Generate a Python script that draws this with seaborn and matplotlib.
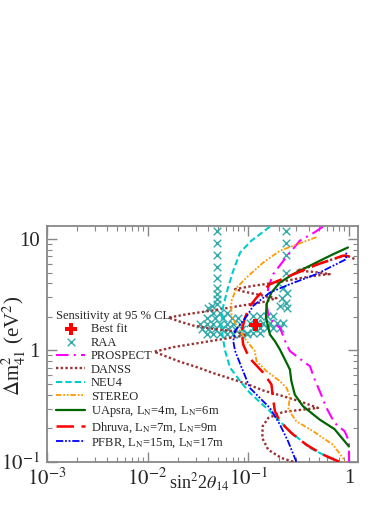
import numpy as np
import pandas as pd
import matplotlib
matplotlib.use("Agg")
import matplotlib.pyplot as plt
import seaborn as sns

# ---------------- data (sin^2 2theta14, dm41^2 [eV^2]) ----------------
prospect_s = [0.55, 0.457, 0.325, 0.23, 0.177, 0.158, 0.152, 0.158, 0.177, 0.206, 0.24, 0.259, 0.35, 0.41, 0.457, 0.53, 0.597, 0.72, 0.905, 1.0, 1.0]
prospect_dm = [12.9, 11.5, 9.66, 6.6, 4.84, 3.67, 2.6, 2.11, 1.77, 1.6, 1.13, 0.986, 0.80, 0.72, 0.548, 0.40, 0.305, 0.223, 0.188, 0.153, 0.1]

danss_s = [0.279, 0.214, 0.158, 0.138, 0.139, 0.158, 0.222, 0.351, 0.493, 0.337, 0.222, 0.141, 0.0962, 0.0658, 0.045, 0.0308, 0.0211, 0.0150, 0.0116, 0.0181, 0.0332, 0.061, 0.0962, 0.071, 0.045, 0.0285, 0.0211, 0.0161, 0.0245, 0.045, 0.0827, 0.141, 0.191, 0.130, 0.0892, 0.0738, 0.112, 0.191, 0.325, 0.512, 0.644, 0.44, 0.301, 0.44, 0.695, 0.94, 1.14]
danss_dm = [0.1, 0.108, 0.128, 0.163, 0.208, 0.247, 0.28, 0.294, 0.304, 0.345, 0.388, 0.436, 0.501, 0.56, 0.625, 0.708, 0.79, 0.889, 0.973, 1.07, 1.17, 1.28, 1.37, 1.49, 1.56, 1.67, 1.81, 1.97, 2.11, 2.29, 2.51, 2.72, 2.94, 3.15, 3.38, 3.55, 3.80, 4.07, 4.45, 4.74, 4.84, 5.08, 5.19, 5.75, 6.6, 7.17, 6.6]

neu4_s = [0.164, 0.108, 0.083, 0.071, 0.063, 0.056, 0.054, 0.056, 0.059, 0.066, 0.083, 0.104, 0.164, 0.259, 0.41, 0.644, 0.81]
neu4_dm = [12.9, 9.7, 7.57, 5.19, 3.67, 2.42, 1.71, 1.30, 0.986, 0.70, 0.53, 0.415, 0.284, 0.188, 0.133, 0.108, 0.1]

stereo_s = [0.475, 0.206, 0.141, 0.096, 0.077, 0.068, 0.068, 0.074, 0.083, 0.097, 0.116, 0.121, 0.152, 0.206, 0.24, 0.259, 0.25, 0.30, 0.44, 0.695, 0.87, 0.9]
stereo_dm = [10.4, 7.85, 6.16, 4.51, 3.67, 2.78, 2.11, 1.77, 1.49, 1.21, 0.986, 0.80, 0.65, 0.53, 0.46, 0.39, 0.294, 0.231, 0.188, 0.142, 0.108, 0.1]

uapsra_s = [1.0, 0.72, 0.512, 0.35, 0.29, 0.268, 0.259, 0.231, 0.206, 0.184, 0.164, 0.15, 0.152, 0.17, 0.206, 0.279, 0.475, 0.695, 0.977]
uapsra_dm = [0.137, 0.196, 0.239, 0.315, 0.40, 0.53, 0.674, 0.83, 1.02, 1.21, 1.39, 1.97, 2.6, 3.31, 4.07, 4.84, 6.16, 7.3, 8.4]

dhruva_s = [0.8, 0.55, 0.378, 0.268, 0.206, 0.184, 0.177, 0.17, 0.141, 0.102, 0.089, 0.086, 0.093, 0.104, 0.121, 0.164, 0.259, 0.475, 0.87, 1.0]
dhruva_dm = [0.1, 0.116, 0.142, 0.181, 0.231, 0.284, 0.362, 0.494, 0.63, 0.86, 1.13, 1.49, 1.97, 2.5, 2.98, 3.93, 4.67, 5.87, 7.08, 7.0]

pfbr_s = [0.30, 0.249, 0.206, 0.164, 0.13, 0.104, 0.086, 0.074, 0.071, 0.074, 0.083, 0.097, 0.112, 0.164, 0.259, 0.475, 0.94, 0.94]
pfbr_dm = [0.1, 0.152, 0.216, 0.304, 0.375, 0.46, 0.70, 0.99, 1.21, 1.49, 1.71, 2.04, 2.51, 3.31, 3.93, 4.84, 6.6, 7.85]

raa_s = [0.0486, 0.0486, 0.0486, 0.0486, 0.0486, 0.0486, 0.0486, 0.0486, 0.0486, 0.0434, 0.040,
         0.236, 0.236, 0.236, 0.236, 0.222, 0.24, 0.214, 0.236, 0.206, 0.24,
         0.045, 0.0527, 0.061,
         0.0387, 0.0468, 0.0565, 0.0684, 0.0796,
         0.0332, 0.0387, 0.045, 0.0527, 0.061, 0.071, 0.0827,
         0.0345, 0.0402, 0.0468, 0.0544, 0.0634, 0.0738, 0.0859,
         0.0387, 0.045, 0.0527, 0.061, 0.071, 0.0827, 0.0962,
         0.112, 0.130, 0.152, 0.177,
         0.104, 0.121, 0.141, 0.164, 0.191, 0.222,
         0.112, 0.130, 0.152, 0.177, 0.206,
         0.0962, 0.112, 0.130]
raa_dm = [11.9, 9.3, 7.2, 5.63, 4.45, 3.67, 3.2, 2.88, 2.63, 2.51, 2.39,
          11.9, 9.3, 7.2, 5.0, 3.67, 3.31, 2.94, 2.69, 2.51, 2.42,
          2.18, 2.18, 2.18,
          1.97, 1.97, 1.97, 1.97, 1.97,
          1.71, 1.71, 1.71, 1.71, 1.71, 1.71, 1.71,
          1.55, 1.55, 1.55, 1.55, 1.55, 1.55, 1.55,
          1.41, 1.41, 1.41, 1.41, 1.41, 1.41, 1.41,
          2.04, 2.04, 2.04, 2.04,
          1.78, 1.78, 1.78, 1.78, 1.78, 1.78,
          1.58, 1.58, 1.58, 1.58, 1.58,
          1.44, 1.44, 1.44]

bestfit_s = [0.118]
bestfit_dm = [1.69]

xtick_vals = [1e-3, 1e-2, 1e-1, 1.0]
xtick_labels = [r'$10^{-3}$', r'$10^{-2}$', r'$10^{-1}$', '1']
ytick_vals = [0.1, 1.0, 10.0]
ytick_labels = [r'$10^{-1}$', '1', '10']

# ---------------- style ----------------
sns.set_style("ticks")
plt.rcParams['font.family'] = ['Liberation Serif', 'DejaVu Serif']
plt.rcParams['mathtext.fontset'] = 'stix'

fig = plt.figure(figsize=(3.9, 5.05), dpi=100)
ax = fig.add_axes([0.12, 0.0857, 0.798, 0.4668])

curves = [
    ("PROSPECT", prospect_s, prospect_dm, "#ff00ff", (0, (6, 2.5, 1, 2.5)), 1.5),
    ("DANSS", danss_s, danss_dm, "#993333", (0, (1, 1)), 1.7),
    ("NEU4", neu4_s, neu4_dm, "#00cccc", (0, (3, 1.5)), 1.5),
    ("STEREO", stereo_s, stereo_dm, "#ff9900", (0, (3, 1, 1, 1, 1, 1)), 1.3),
    (r"UApsra, L$_{\mathrm{N}}$=4m, L$_{\mathrm{N}}$=6m", uapsra_s, uapsra_dm, "#006600", "-", 1.6),
    (r"Dhruva, L$_{\mathrm{N}}$=7m, L$_{\mathrm{N}}$=9m", dhruva_s, dhruva_dm, "#ff0000", (0, (7, 3)), 1.8),
    (r"PFBR, L$_{\mathrm{N}}$=15m, L$_{\mathrm{N}}$=17m", pfbr_s, pfbr_dm, "#0000ff", (0, (4, 1, 1, 1, 1, 1)), 1.3),
]

sns.scatterplot(x=raa_s, y=raa_dm, marker='x', s=30, color="#33aaaa", linewidth=1.0, ax=ax, label="RAA", zorder=2)
for lab, xs, ys, col, ls, lw in curves:
    df = pd.DataFrame({"s": xs, "dm": ys})
    sns.lineplot(data=df, x="s", y="dm", sort=False, estimator=None, color=col,
                 linestyle=ls, linewidth=lw, ax=ax, label=lab, zorder=3)
sns.scatterplot(x=bestfit_s, y=bestfit_dm, marker='P', s=80, color="#ff0000", edgecolor='none', ax=ax, label="Best fit", zorder=5)

ax.set_xscale('log')
ax.set_yscale('log')
ax.set_xlim(1e-3, 1.23)
ax.set_ylim(0.1, 13.1)
ax.set_xticks(xtick_vals)
ax.set_xticklabels(xtick_labels)
ax.set_yticks(ytick_vals)
ax.set_yticklabels(ytick_labels)

for sp in ax.spines.values():
    sp.set_color('#888888')
    sp.set_linewidth(1.3)
ax.tick_params(which='both', direction='in', top=True, right=True, color='#888888', labelsize=15)
ax.tick_params(which='major', length=7, width=1.0, pad=5)
ax.tick_params(which='minor', length=3.5, width=0.8)

ax.set_xlabel(r'sin$^{2}$2$\theta_{14}$', fontsize=13)
ax.xaxis.set_label_coords(0.49, -0.04)
ax.set_ylabel(r'$\Delta$m$^{2}_{41}$ (eV$^{2}$)', fontsize=15)
ax.yaxis.set_label_coords(-0.06, 0.49)

handles, labels = ax.get_legend_handles_labels()
order = ["Best fit", "RAA", "PROSPECT", "DANSS", "NEU4", "STEREO"]
hmap = dict(zip(labels, handles))
ordered_labels = order + [c[0] for c in curves[4:]]
ordered_handles = [hmap[l] for l in ordered_labels]
leg = ax.legend(ordered_handles, ordered_labels, title="Sensitivity at 95 % CL",
                loc='lower left', bbox_to_anchor=(0.015, 0.028), frameon=False,
                fontsize=9, title_fontsize=9, handlelength=2.3, handletextpad=0.45,
                labelspacing=0.12, alignment='left', borderaxespad=0.0)

fig.savefig("out.png", dpi=100)
